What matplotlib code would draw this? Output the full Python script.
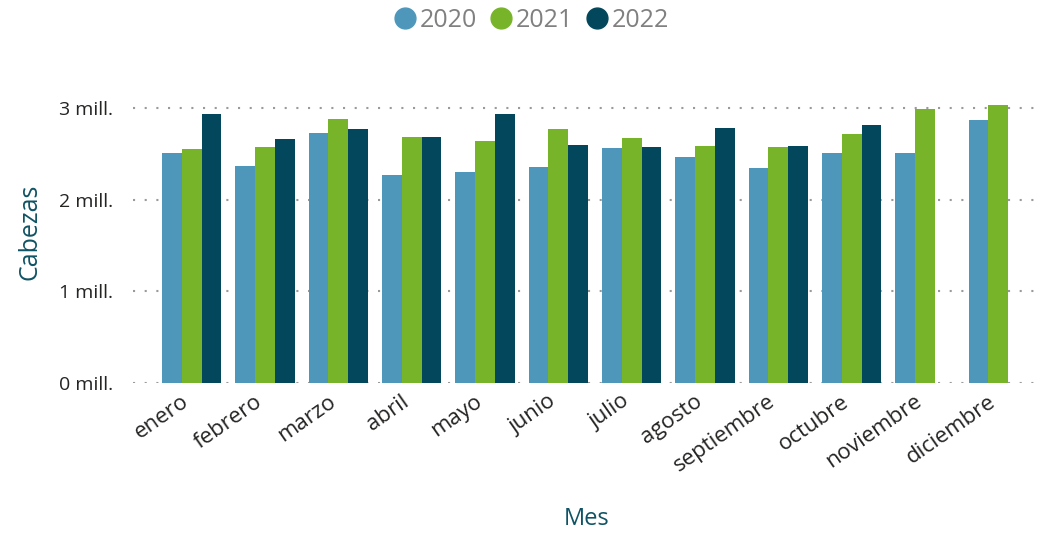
import matplotlib
matplotlib.use("Agg")
import matplotlib.pyplot as plt
import matplotlib.transforms as mtransforms
from matplotlib.lines import Line2D
import numpy as np

plt.rcParams['font.family'] = ['Open Sans', 'DejaVu Sans']

meses = ["enero", "febrero", "marzo", "abril", "mayo", "junio", "julio",
         "agosto", "septiembre", "octubre", "noviembre", "diciembre"]
v2020 = [2.515, 2.369, 2.729, 2.271, 2.303, 2.358, 2.566, 2.468, 2.347, 2.511, 2.511, 2.872]
v2021 = [2.555, 2.577, 2.882, 2.686, 2.642, 2.773, 2.675, 2.588, 2.577, 2.719, 2.992, 3.036]
v2022 = [2.937, 2.664, 2.773, 2.686, 2.937, 2.599, 2.577, 2.784, 2.588, 2.817, np.nan, np.nan]
series = ["2020", "2021", "2022"]
colors = ["#4E97BB", "#78B42A", "#02475B"]
yticks = [0, 1, 2, 3]
ytick_labels = ["0 mill.", "1 mill.", "2 mill.", "3 mill."]

fig = plt.figure(figsize=(10.45, 5.33), dpi=100)
ax = fig.add_axes([0.127, 0.282, 0.868, 0.566])

x = np.arange(len(meses))
w = 0.27
for i, (vals, c) in enumerate(zip([v2020, v2021, v2022], colors)):
    ax.bar(x + (i - 1) * w, vals, width=w, color=c, zorder=3)

ax.set_xlim(-0.805, 11.565)
ax.set_ylim(0, 3.3)
ax.set_yticks(yticks)
ax.set_yticklabels(ytick_labels, fontsize=14, color="#252423")
ax.yaxis.grid(True, linestyle=(0, (1, 4.6)), color="#9a9a9a", linewidth=1.5, zorder=0)
ax.set_axisbelow(True)
for s in ax.spines.values():
    s.set_visible(False)
ax.tick_params(axis='y', length=0, pad=14)
ax.tick_params(axis='x', length=0, pad=6)
ax.set_xticks(x)
ax.set_xticklabels(meses, rotation=35, ha='right', rotation_mode='anchor',
                   fontsize=16, color="#252423")
shift = mtransforms.ScaledTranslation(-0.11, 0, fig.dpi_scale_trans)
for lbl in ax.get_xticklabels():
    lbl.set_transform(lbl.get_transform() + shift)

ax.set_ylabel("Cabezas", fontsize=18, color="#0F5364", labelpad=12)
ax.set_xlabel("Mes", fontsize=17, color="#0F5364", labelpad=22)

handles = [Line2D([0], [0], marker='o', linestyle='none', markersize=15,
                  markerfacecolor=c, markeredgecolor=c) for c in colors]
leg = fig.legend(handles, series, loc='upper center', bbox_to_anchor=(0.507, 1.027),
                 ncol=3, frameon=False, fontsize=18, handletextpad=0.0,
                 columnspacing=0.35, handlelength=1.2)
for t in leg.get_texts():
    t.set_color("#808080")

fig.savefig("out.png", dpi=100)
